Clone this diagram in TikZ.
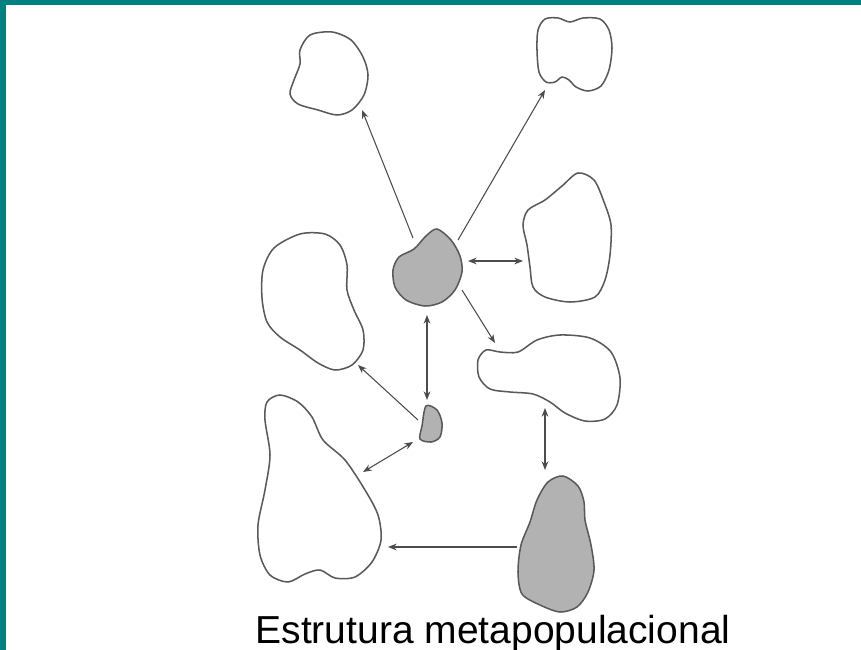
\documentclass[tikz,border=0pt]{standalone}
\usepackage{fontspec}
\setmainfont{Liberation Sans}
\usetikzlibrary{arrows.meta, positioning}
\definecolor{slideteal}{HTML}{008080}

\begin{document}
\begin{tikzpicture}[
    x=0.03cm, y=-0.03cm,
    >={Stealth[length=2.6mm, width=2mm]},
    patch/.style={draw=black!65, line width=1.3pt, fill=white},
    occupied/.style={patch, fill=gray!60},
    every edge/.style={draw=black!70, line width=0.9pt},
    caption/.style={font=\fontsize{33.3}{38}\selectfont}
]

% frame
\useasboundingbox (0,0) rectangle (861,650);
\fill[white] (0,0) rectangle (861,650);
\fill[slideteal] (0,0) rectangle (861,5);
\fill[slideteal] (0,0) rectangle (6,650);

% empty patches
\draw[patch] plot[smooth cycle] coordinates {(310,35) (332,32) (351,40) (363,57) (368,75) (364,95) (352,110) (337,115) (318,110) (298,104) (290,94) (294,80) (300,64) (300,50)};
\draw[patch] plot[smooth cycle] coordinates {(545,19) (558,18) (570,22) (583,18) (600,19) (609,30) (612,48) (609,70) (601,86) (588,91) (576,87) (569,80) (562,77) (555,82) (546,82) (539,72) (537,50) (538,30)};
\draw[patch] plot[smooth cycle] coordinates {(578,173) (594,180) (604,202) (611,225) (610,255) (605,280) (595,297) (570,302) (545,297) (533,287) (530,267) (527,245) (523,225) (528,210) (545,200) (562,186)};
\draw[patch] plot[smooth cycle] coordinates {(300,234) (325,234) (340,245) (347,265) (347,290) (354,310) (363,330) (363,350) (352,365) (335,370) (318,363) (300,350) (280,337) (267,322) (262,298) (263,270) (274,248)};
\draw[patch] plot[smooth cycle] coordinates {(280,395) (298,402) (312,417) (323,440) (345,460) (365,490) (378,515) (381,540) (372,562) (355,577) (335,578) (320,570) (305,574) (288,582) (270,575) (260,555) (258,525) (265,490) (270,455) (265,420) (267,402)};
\draw[patch] plot[smooth cycle] coordinates {(486,350) (500,352) (518,352) (537,340) (560,335) (590,338) (611,352) (620,378) (617,405) (605,419) (585,421) (565,413) (550,402) (533,394) (510,392) (490,389) (479,377) (478,360)};

% occupied patches
\draw[occupied] plot[smooth cycle] coordinates {(437,229) (451,240) (460,256) (462,272) (455,290) (442,302) (425,306) (406,300) (395,287) (393,270) (399,257) (414,249) (426,236)};
\draw[occupied] plot[smooth cycle] coordinates {(426,406) (437,410) (442,423) (440,437) (431,442) (420,439) (422,426)};
\draw[occupied] plot[smooth cycle] coordinates {(563,476) (578,486) (584,502) (585,520) (591,545) (594,570) (588,592) (577,607) (560,612) (540,605) (522,594) (518,572) (521,545) (530,522) (537,500) (548,482)};

% arrow ends
\coordinate (srcNW) at (413,238);
\coordinate (srcNE) at (458,240);
\coordinate (srcE) at (468,261);
\coordinate (srcSE) at (462,290);
\coordinate (srcS) at (427,315);
\coordinate (topleftS) at (362,110);
\coordinate (toprightS) at (545,90);
\coordinate (rightW) at (523,261);
\coordinate (peanutNW) at (495,343);
\coordinate (peanutS) at (545,408);
\coordinate (smallN) at (427,400);
\coordinate (smallW) at (418,420);
\coordinate (smallSW) at (413,442);
\coordinate (midleftSE) at (358,365);
\coordinate (bigleftE) at (363,472);
\coordinate (bigleftR) at (388,547);
\coordinate (bigN) at (545,470);
\coordinate (bigW) at (517,547);

% arrows
\path (srcNW) edge[->] (topleftS)
      (srcNE) edge[->] (toprightS)
      (srcE) edge[<->] (rightW)
      (srcSE) edge[->] (peanutNW)
      (srcS) edge[<->] (smallN)
      (smallW) edge[->] (midleftSE)
      (smallSW) edge[<->] (bigleftE)
      (peanutS) edge[<->] (bigN)
      (bigW) edge[->] (bigleftR);

% caption
\node[caption, anchor=base] (title) at (493,643) {Estrutura metapopulacional};

\end{tikzpicture}
\end{document}
